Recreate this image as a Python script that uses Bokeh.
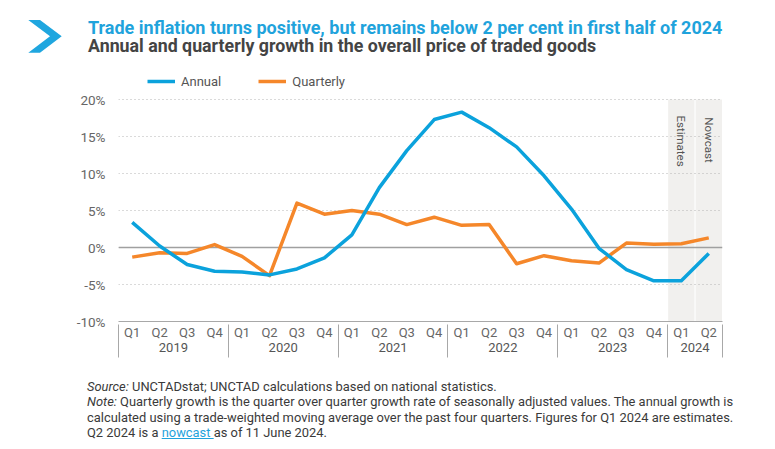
import math
from bokeh.plotting import figure
from bokeh.layouts import column
from bokeh.models import (Range1d, FixedTicker, LinearAxis, Span, Legend,
                          LegendItem, Div)
from bokeh.embed import file_html
from bokeh.resources import INLINE
from bokeh.core.properties import value

# ---------------- data ----------------
years = ["2019", "2020", "2021", "2022", "2023", "2024"]
quarters_per_year = [4, 4, 4, 4, 4, 2]
quarter_names = ["Q1", "Q2", "Q3", "Q4"]
annual = [3.4, 0.2, -2.3, -3.2, -3.3, -3.7, -2.9, -1.4, 1.7, 8.1, 13.1, 17.3,
          18.3, 16.2, 13.6, 9.7, 5.2, -0.1, -3.0, -4.5, -4.5, -0.8]
quarterly = [-1.3, -0.7, -0.8, 0.4, -1.2, -3.8, 6.0, 4.5, 5.0, 4.5, 3.1, 4.1,
             3.0, 3.1, -2.2, -1.1, -1.8, -2.1, 0.6, 0.45, 0.5, 1.3]
y_ticks = [-10, -5, 0, 5, 10, 15, 20]
shaded_labels = ["Estimates", "Nowcast"]

title_text = "Trade inflation turns positive, but remains below 2 per cent in first half of 2024"
subtitle_text = "Annual and quarterly growth in the overall price of traded goods"

# ---------------- derived positions ----------------
period_labels = [q for c in quarters_per_year for q in quarter_names[:c]]
n = len(period_labels)
xs = [i + 0.5 for i in range(n)]
boundaries = [0]
for c in quarters_per_year:
    boundaries.append(boundaries[-1] + c)
year_centers = [(boundaries[i] + boundaries[i + 1]) / 2 for i in range(len(years))]

FONT = "Roboto"
BLUE = "#0ba2dc"
ORANGE = "#f5872a"
GREY_AX = "#a8a8a8"
TXT = "#666666"

HEADER_H = 62
FIG_H = 306
FOOTER_H = 449 - HEADER_H - FIG_H

p = figure(width=775, height=FIG_H, x_range=Range1d(0, n), y_range=Range1d(-10, 24.2),
           output_backend="svg", toolbar_location=None, x_axis_type=None,
           min_border_left=118, min_border_right=53, min_border_top=6,
           min_border_bottom=47)
p.outline_line_color = None

# y axis
p.yaxis.ticker = FixedTicker(ticks=y_ticks)
p.yaxis.major_label_overrides = {t: f"{t}%" for t in y_ticks}
p.yaxis.axis_line_color = None
p.yaxis.major_tick_line_color = None
p.yaxis.minor_tick_line_color = None
p.yaxis.major_label_standoff = 7
p.yaxis.major_label_text_font = FONT
p.yaxis.major_label_text_font_size = "13.5px"
p.yaxis.major_label_text_color = TXT
p.ygrid.grid_line_dash = "1 3"
p.ygrid.grid_line_color = "#b5b5b5"
p.xgrid.grid_line_color = None

LABEL_SIZE = "13px"
Q_STANDOFF = 3
ROW_H = 15  # approximate label row height for 13px text

# x axis row 1: quarters
ax_q = LinearAxis(ticker=FixedTicker(ticks=xs, minor_ticks=[]),
                  major_label_overrides={x: l for x, l in zip(xs, period_labels)})
ax_q.axis_line_color = GREY_AX
ax_q.major_tick_line_color = None
ax_q.minor_tick_line_color = None
ax_q.major_tick_out = 0
ax_q.major_tick_in = 0
ax_q.major_label_standoff = Q_STANDOFF
ax_q.major_label_text_font = FONT
ax_q.major_label_text_font_size = LABEL_SIZE
ax_q.major_label_text_color = TXT
p.add_layout(ax_q, "below")

# x axis row 2: years, with separators reaching up through the quarter row
ax_y = LinearAxis(ticker=FixedTicker(ticks=year_centers, minor_ticks=boundaries),
                  major_label_overrides={x: y for x, y in zip(year_centers, years)})
ax_y.axis_line_color = None
ax_y.major_tick_line_color = None
ax_y.major_tick_out = 0
ax_y.major_tick_in = 0
ax_y.minor_tick_line_color = GREY_AX
ax_y.minor_tick_in = Q_STANDOFF + ROW_H
ax_y.minor_tick_out = 0
ax_y.major_label_standoff = 0
ax_y.major_label_text_font = FONT
ax_y.major_label_text_font_size = LABEL_SIZE
ax_y.major_label_text_color = "#555555"
p.add_layout(ax_y, "below")

# x axis row 3: separators through the year row
ax_s = LinearAxis(ticker=FixedTicker(ticks=[], minor_ticks=boundaries))
ax_s.axis_line_color = None
ax_s.major_tick_line_color = None
ax_s.major_tick_out = 0
ax_s.major_tick_in = 0
ax_s.minor_tick_line_color = GREY_AX
ax_s.minor_tick_in = ROW_H
ax_s.minor_tick_out = 3
ax_s.major_label_standoff = 0
ax_s.major_label_text_font_size = "1px"
p.add_layout(ax_s, "below")

# shaded estimate / nowcast columns
p.vbar(x=xs[-len(shaded_labels):], width=0.96, top=y_ticks[-1], bottom=y_ticks[0],
       fill_color="#f1f0ee", line_color=None, level="image")
p.text(x=xs[-len(shaded_labels):], y=[17.85, 17.6], text=shaded_labels,
       angle=-math.pi / 2, text_align="left", text_baseline="middle",
       text_font=value(FONT), text_font_size="11.5px", text_color="#555555")

# zero line
p.add_layout(Span(location=0, dimension="width", line_color="#a0a0a0",
                  line_width=1.5, level="underlay"))

# series
r_q = p.line(xs, quarterly, line_color=ORANGE, line_width=3.5, line_join="round")
r_a = p.line(xs, annual, line_color=BLUE, line_width=3.5, line_join="round")

legend = Legend(items=[LegendItem(label="Annual", renderers=[r_a]),
                       LegendItem(label="Quarterly", renderers=[r_q])],
                location=(29, 230), orientation="horizontal")
legend.border_line_color = None
legend.background_fill_alpha = 0
legend.padding = 0
legend.margin = 0
legend.spacing = 37
legend.glyph_width = 28
legend.glyph_height = 20
legend.label_height = 20
legend.label_standoff = 6
legend.label_text_font = FONT
legend.label_text_font_size = "13px"
legend.label_text_color = "#555555"
p.add_layout(legend)

# ---------------- header and footer ----------------
header_html = f"""
<div style="position:relative;width:775px;height:{HEADER_H}px;font-family:Roboto,sans-serif;">
  <svg style="position:absolute;left:0;top:0" width="70" height="{HEADER_H}">
    <polygon points="28.3,20 40,20 61.7,36.3 40,52.7 28.3,52.7 50,36.3" fill="#1fa6df"/>
  </svg>
  <div style="position:absolute;left:88px;top:19px;white-space:nowrap;font-size:18px;line-height:17px;font-weight:bold;color:#1fa3dc;">{title_text}</div>
  <div style="position:absolute;left:88px;top:37px;white-space:nowrap;font-size:17.8px;line-height:17px;font-weight:bold;color:#444444;">{subtitle_text}</div>
</div>
"""
header = Div(text=header_html, width=775, height=HEADER_H, margin=(0, 0, 0, 0))

footer_html = """
<div style="position:relative;width:775px;padding-left:87px;padding-top:10.5px;white-space:nowrap;
            font-family:Roboto,sans-serif;font-size:12.9px;line-height:15.5px;color:#3a3a3a;">
<i>Source:</i> UNCTADstat; UNCTAD calculations based on national statistics.<br>
<i>Note:</i> Quarterly growth is the quarter over quarter growth rate of seasonally adjusted values. The annual growth is<br>
calculated using a trade-weighted moving average over the past four quarters. Figures for Q1 2024 are estimates.<br>
Q2 2024 is a <span style="color:#1fa3dc;text-decoration:underline;">nowcast </span>as of 11 June 2024.
</div>
"""
footer = Div(text=footer_html, width=775, height=FOOTER_H, margin=(0, 0, 0, 0))

layout = column(header, p, footer, spacing=0)

open("out.html", "w").write(file_html(layout, INLINE))
